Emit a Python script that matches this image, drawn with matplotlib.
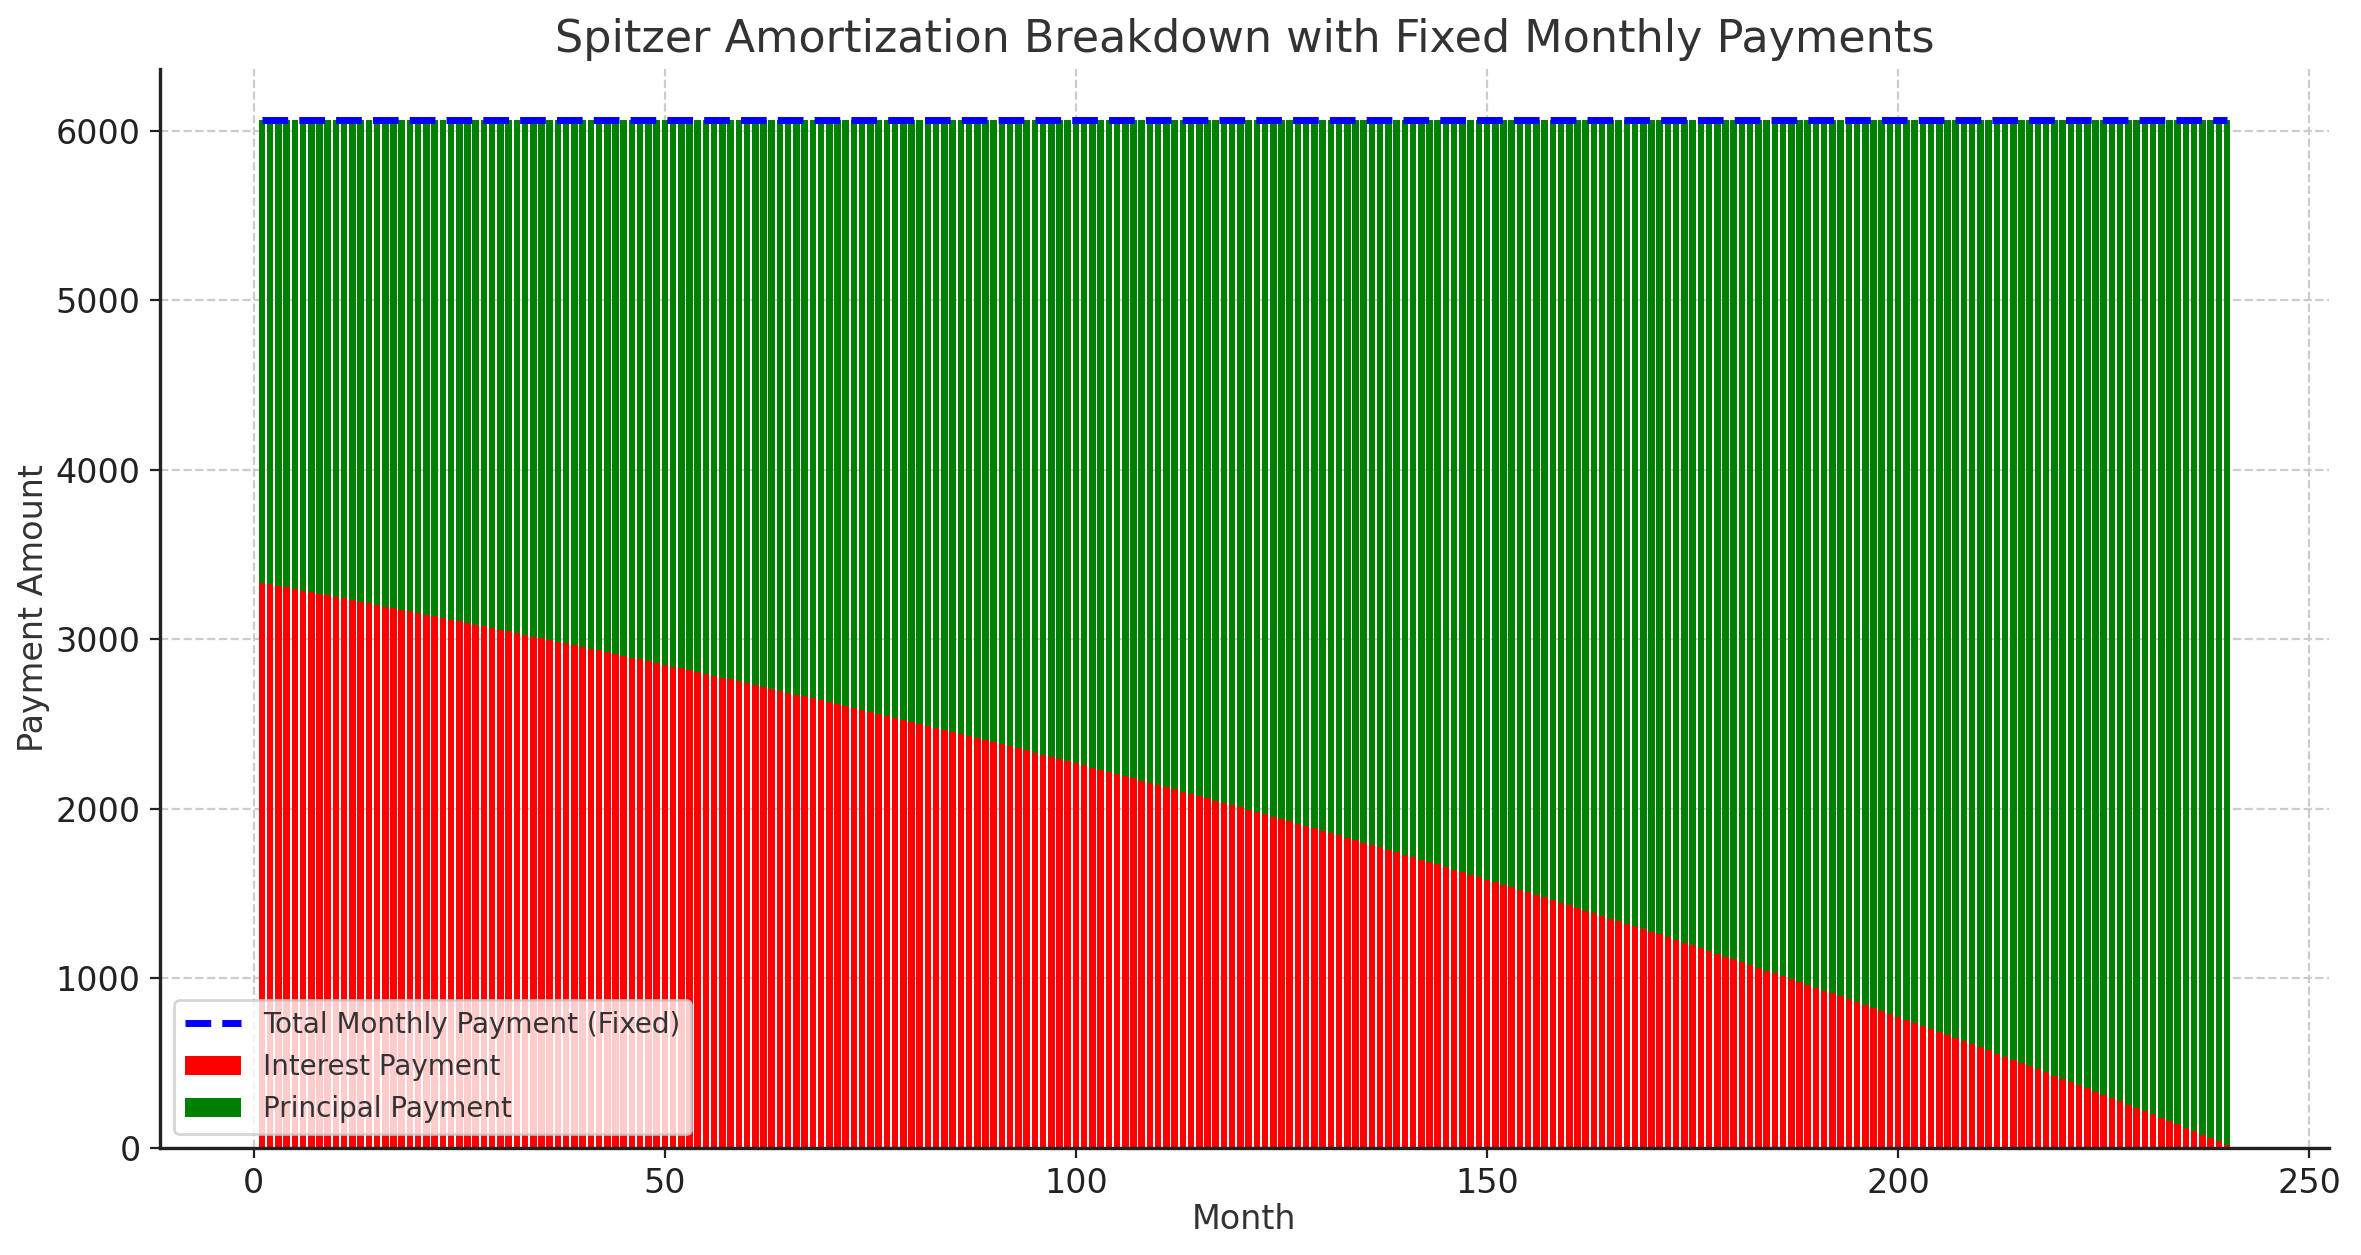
import matplotlib
matplotlib.use("Agg")
import matplotlib.pyplot as plt
import numpy as np

# monthly payment schedule (240 months)
months = np.arange(1, 241)
total_payment = 6060  # fixed monthly payment

interest = [
    3333, 3324, 3315, 3306, 3296, 3287, 3278, 3269, 3259, 3250, 3241, 3232,
    3222, 3213, 3203, 3193, 3184, 3174, 3164, 3155, 3145, 3136, 3126, 3116,
    3107, 3097, 3087, 3077, 3067, 3057, 3047, 3036, 3026, 3016, 3006, 2996,
    2986, 2976, 2965, 2955, 2945, 2934, 2924, 2913, 2903, 2892, 2882, 2872,
    2861, 2850, 2839, 2829, 2818, 2807, 2796, 2785, 2774, 2763, 2752, 2742,
    2731, 2719, 2708, 2697, 2686, 2674, 2663, 2652, 2640, 2629, 2618, 2606,
    2595, 2583, 2572, 2560, 2548, 2536, 2525, 2513, 2501, 2489, 2478, 2466,
    2454, 2442, 2430, 2417, 2405, 2393, 2381, 2368, 2356, 2344, 2332, 2319,
    2307, 2294, 2282, 2269, 2256, 2243, 2231, 2218, 2205, 2192, 2180, 2167,
    2154, 2141, 2128, 2114, 2101, 2088, 2075, 2061, 2048, 2035, 2022, 2008,
    1995, 1981, 1968, 1954, 1940, 1926, 1912, 1899, 1885, 1871, 1857, 1843,
    1830, 1815, 1801, 1786, 1772, 1758, 1743, 1729, 1715, 1700, 1686, 1672,
    1657, 1642, 1627, 1612, 1597, 1582, 1567, 1553, 1538, 1523, 1508, 1493,
    1478, 1462, 1447, 1431, 1416, 1400, 1384, 1369, 1353, 1338, 1322, 1307,
    1291, 1275, 1259, 1243, 1226, 1210, 1194, 1178, 1162, 1145, 1129, 1113,
    1097, 1080, 1063, 1046, 1029, 1013, 996, 979, 962, 945, 928, 911,
    895, 877, 860, 842, 824, 807, 789, 772, 754, 737, 719, 702,
    684, 666, 648, 629, 611, 593, 575, 556, 538, 520, 502, 483,
    465, 446, 427, 408, 389, 370, 351, 332, 313, 294, 275, 256,
    237, 218, 198, 178, 158, 139, 119, 99, 79, 60, 40, 20,
]
interest = np.array(interest)
principal = total_payment - interest

TEXT = "#333333"
plt.rcParams.update({
    "font.family": "DejaVu Sans",
    "axes.spines.top": False,
    "axes.spines.right": False,
    "axes.edgecolor": "#222222",
    "axes.linewidth": 1.2,
})

fig, ax = plt.subplots(figsize=(11.805, 6.275), dpi=200)
fig.subplots_adjust(left=0.0678, right=0.9864, top=0.945, bottom=0.0853)

ax.plot(months, [total_payment] * len(months), color="blue", linestyle="--",
        linewidth=2.5, label="Total Monthly Payment (Fixed)")
ax.bar(months, interest, color="red", label="Interest Payment")
ax.bar(months, principal, bottom=interest, color="green", label="Principal Payment")

ax.set_title("Spitzer Amortization Breakdown with Fixed Monthly Payments",
             fontsize=16, color=TEXT)
ax.set_xlabel("Month", fontsize=12, color=TEXT, labelpad=1)
ax.set_ylabel("Payment Amount", fontsize=12, color=TEXT, labelpad=2)
ax.tick_params(labelsize=12, colors="#222222")
ax.grid(True, linestyle="--", color="#cccccc", linewidth=0.8)
ax.set_axisbelow(True)
leg = ax.legend(loc="lower left", fontsize=10)
for t in leg.get_texts():
    t.set_color(TEXT)

fig.savefig("out.png", dpi=200)
